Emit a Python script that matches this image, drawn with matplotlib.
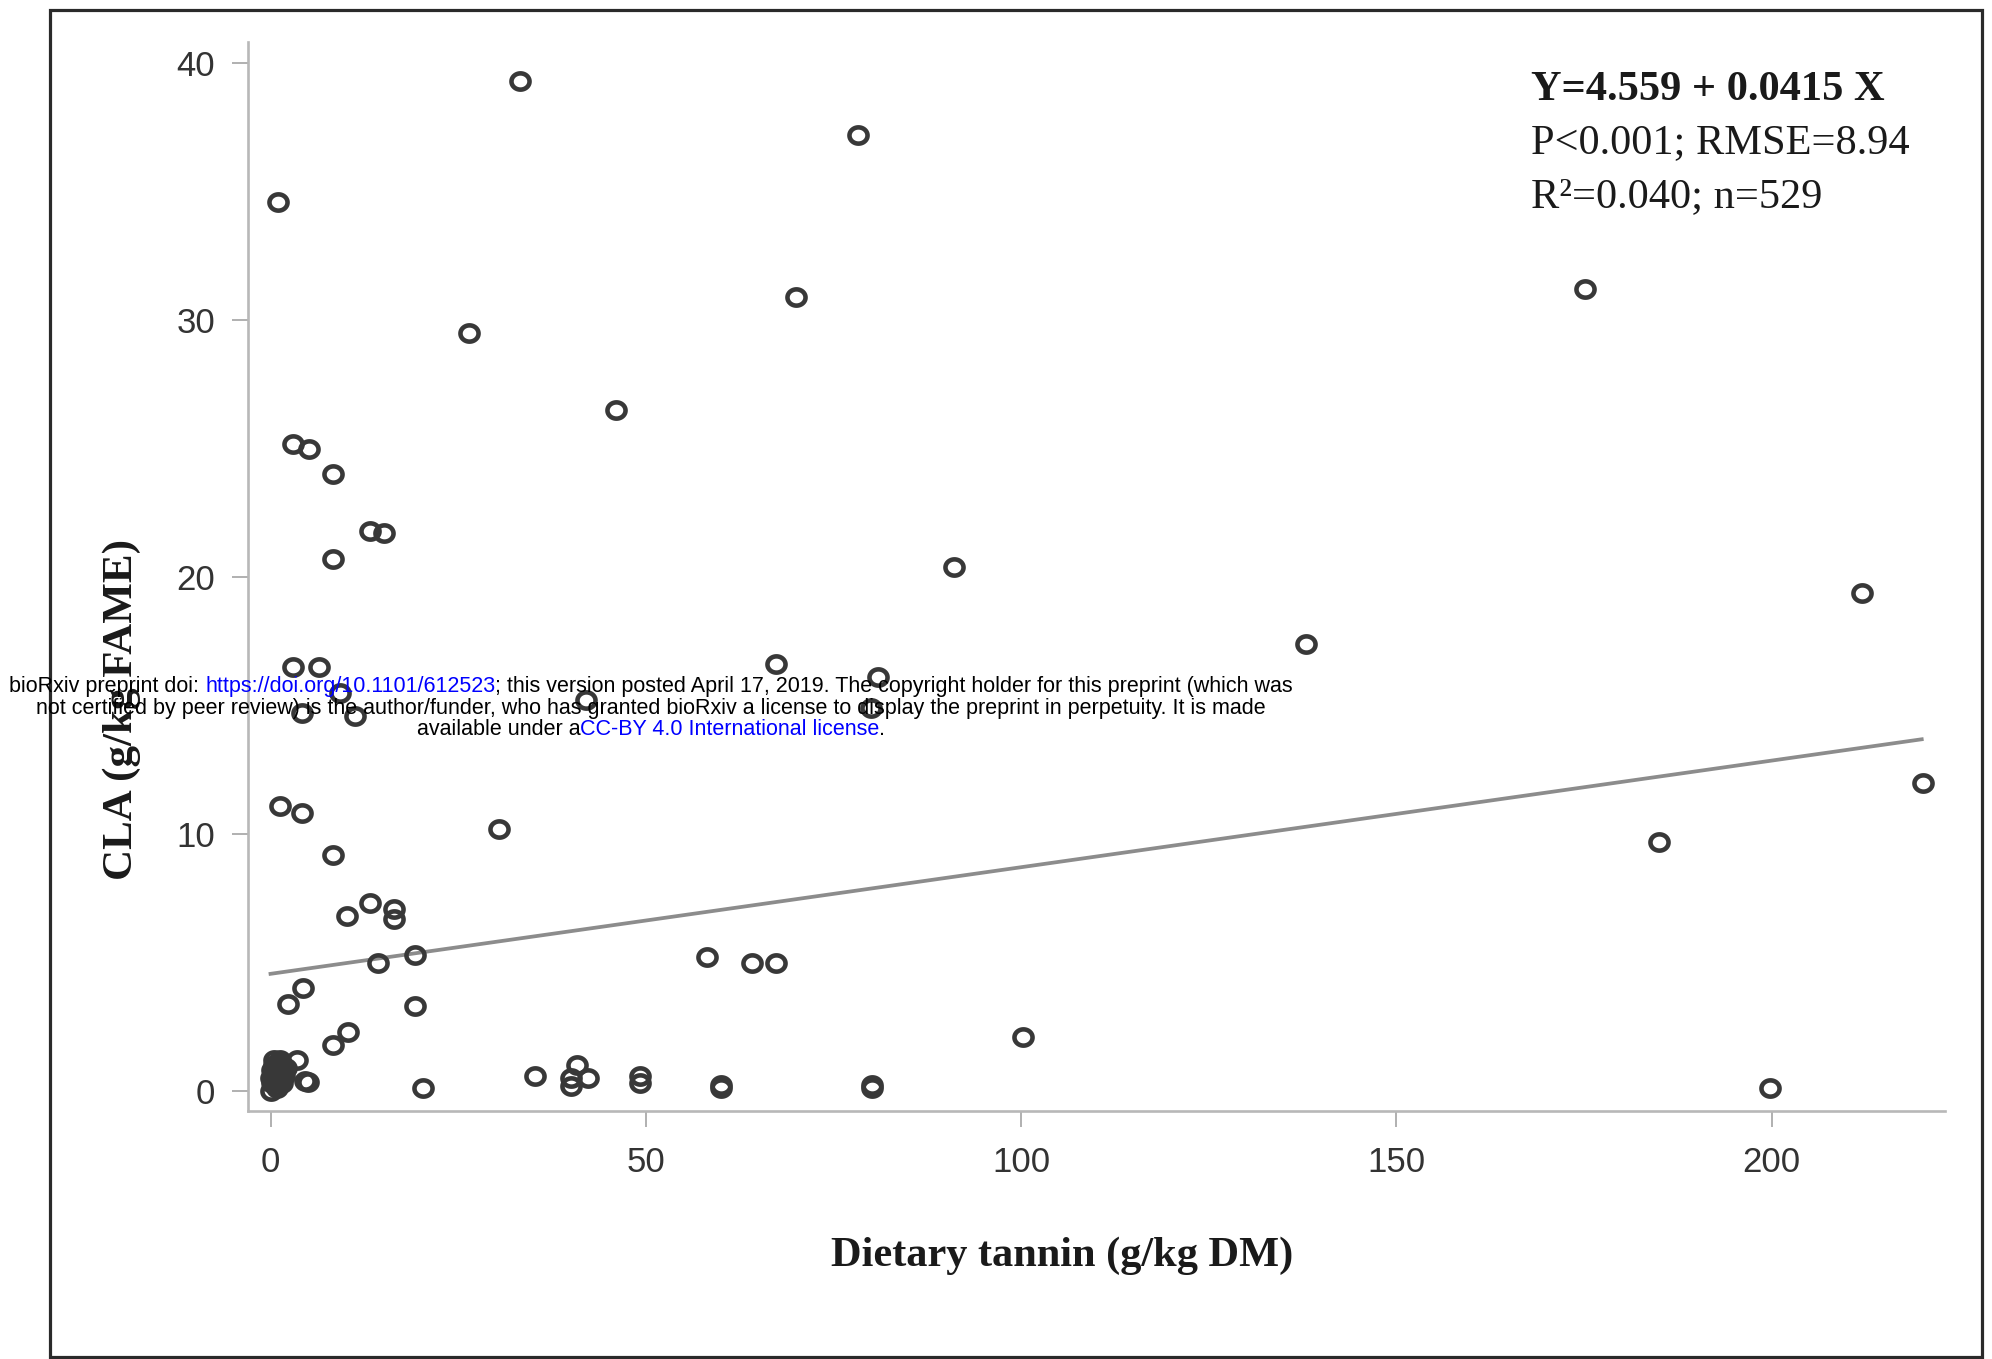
import numpy as np
import matplotlib
matplotlib.use("Agg")
import matplotlib.pyplot as plt
from matplotlib.path import Path
from matplotlib.patches import Rectangle

# scattered observations (tannin g/kg DM, CLA g/kg FAME)
tannin = [1.0, 33.2, 78.3, 70.0, 175.1, 26.4, 46.0, 3.0, 5.1, 8.3,
          13.2, 15.1, 8.3, 91.0, 212.0, 138.0, 67.3, 81.0, 3.0, 6.4,
          9.3, 4.2, 11.2, 42.0, 80.0, 1.2, 4.2, 30.4, 8.3, 185.0,
          220.2, 10.2, 13.2, 16.4, 16.4, 19.3, 14.3, 58.2, 64.1, 67.3,
          4.3, 2.3, 19.3, 8.3, 10.3, 100.3, 35.2, 40.9, 40.0, 40.0,
          42.3, 49.2, 49.2, 60.0, 60.0, 80.2, 80.2, 20.3, 199.8, 4.6,
          5.0, 3.5]
cla = [34.6, 39.3, 37.2, 30.9, 31.2, 29.5, 26.5, 25.2, 25.0, 24.0,
       21.8, 21.7, 20.7, 20.4, 19.4, 17.4, 16.6, 16.1, 16.5, 16.5,
       15.5, 14.7, 14.6, 15.2, 14.9, 11.1, 10.8, 10.2, 9.2, 9.7,
       12.0, 6.8, 7.3, 7.1, 6.7, 5.3, 5.0, 5.2, 5.0, 5.0,
       4.0, 3.4, 3.3, 1.8, 2.3, 2.1, 0.6, 1.0, 0.5, 0.2,
       0.5, 0.6, 0.3, 0.25, 0.1, 0.25, 0.1, 0.1, 0.1, 0.4,
       0.35, 1.2]

# dense overlapping group near zero tannin
cluster_tannin = [0.0, 0.2, 0.3, 0.5, 0.6, 0.8, 1.0, 1.0, 1.2, 1.5,
                  1.5, 1.8, 2.0, 0.4, 0.7, 1.1, 1.3, 0.2, 0.9, 1.6, 0.1, 0.5]
cluster_cla = [0.0, 0.3, 0.6, 0.9, 0.4, 0.7, 1.1, 0.5, 0.8, 1.0,
               0.3, 0.6, 0.9, 1.2, 0.2, 0.4, 1.2, 0.8, 0.1, 0.7, 0.5, 1.0]

intercept = 4.559
slope = 0.0415
fit_range = [0, 220]

x_ticks = [0, 50, 100, 150, 200]
y_ticks = [0, 10, 20, 30, 40]

stats_lines = ["Y=4.559 + 0.0415 X", "P<0.001; RMSE=8.94", "R\u00b2=0.040; n=529"]

W, H = 1992, 1359


def fx(px):
    return px / W


def fy(py):
    return 1 - py / H


fig = plt.figure(figsize=(W / 100, H / 100), dpi=100)
fig.patch.set_facecolor("white")

ax = fig.add_axes([fx(248), fy(1111), (1945 - 248) / W, (1111 - 42) / H])
for s in ["top", "right"]:
    ax.spines[s].set_visible(False)
for s in ["left", "bottom"]:
    ax.spines[s].set_color("#b8b8b8")
    ax.spines[s].set_linewidth(1.9)

# slightly wide open ring marker like the original
th = np.linspace(0, 2 * np.pi, 80)
ring = Path(np.c_[np.cos(th), 0.9 * np.sin(th)], closed=True)

xs = tannin + cluster_tannin
ys = cla + cluster_cla
ax.plot(xs, ys, linestyle="none", marker=ring, markersize=13,
        markerfacecolor="none", markeredgecolor="#383838", markeredgewidth=3.3,
        zorder=3)

fx_line = np.array(fit_range, dtype=float)
ax.plot(fx_line, intercept + slope * fx_line, color="#8c8c8c", lw=2.7, zorder=2)

ax.set_xlim(-3.0, 223.1)
ax.set_ylim(-0.78, 40.83)
ax.set_xticks(x_ticks)
ax.set_yticks(y_ticks)
ax.tick_params(axis="both", direction="out", length=11.5, width=1.3,
               color="#aaaaaa", labelsize=25, labelcolor="#333333")
ax.tick_params(axis="y", pad=12)
ax.tick_params(axis="x", pad=14)
for lab in ax.get_xticklabels() + ax.get_yticklabels():
    lab.set_fontfamily("Liberation Sans")

# axis titles
fig.text(fx(1062), fy(1266), "Dietary tannin (g/kg DM)", family="Liberation Serif",
         weight="bold", fontsize=30.5, ha="center", va="baseline", color="#1a1a1a")
fig.text(fx(122), fy(710), "CLA (g/kg FAME)", family="Liberation Serif",
         weight="bold", fontsize=31, ha="center", va="center", rotation=90,
         color="#1a1a1a")

# regression statistics
baselines = [100, 153, 207]
for i, (line, b) in enumerate(zip(stats_lines, baselines)):
    fig.text(fx(1531), fy(b), line, family="Liberation Serif",
             weight="bold" if i == 0 else "normal", fontsize=30.5,
             ha="left", va="baseline", color="#1a1a1a")

# outer frame
fig.patches.append(Rectangle((fx(50), fy(1357)), (1982 - 50) / W, (1357 - 10) / H,
                             transform=fig.transFigure, fill=False,
                             edgecolor="#2a2a2a", linewidth=2.3, zorder=0))

# preprint stamp across the figure
stamp = [
    [("bioRxiv preprint doi: ", "black"), ("https://doi.org/10.1101/612523", "#0000ff"),
     ("; this version posted April 17, 2019. The copyright holder for this preprint (which was", "black")],
    [("not certified by peer review) is the author/funder, who has granted bioRxiv a license to display the preprint in perpetuity. It is made", "black")],
    [("available under a", "black"), ("CC-BY 4.0 International license", "#0000ff"), (".", "black")],
]
stamp_base = [692, 714, 735]
renderer = fig.canvas.get_renderer()
for segs, b in zip(stamp, stamp_base):
    texts = []
    widths = []
    for s, c in segs:
        t = fig.text(0, fy(b), s, family="Liberation Sans", fontsize=15.5,
                     color=c, ha="left", va="baseline", zorder=10)
        texts.append(t)
        widths.append(t.get_window_extent(renderer).width)
    start = 651 - sum(widths) / 2
    for t, w in zip(texts, widths):
        t.set_x(fx(start))
        start += w

fig.savefig("out.png", dpi=100, facecolor="white")
